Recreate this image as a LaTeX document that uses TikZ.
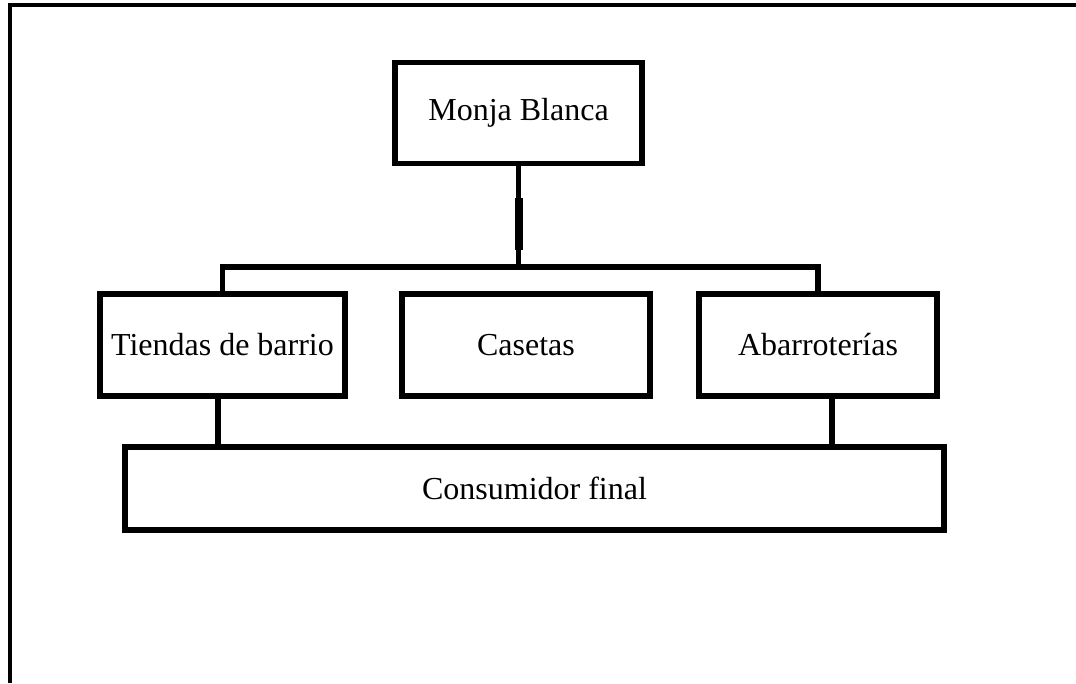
\documentclass[tikz,border=0pt]{standalone}
\usepackage{fontspec}
\setmainfont{Liberation Serif}
\usetikzlibrary{calc}

\tikzset{
  box/.style={draw,line width=4pt,inner sep=0pt,align=center,
    font=\fontsize{24}{29}\selectfont},
  link/.style={line width=4pt},
}

\begin{document}
\begin{tikzpicture}[x=0.75pt,y=-0.75pt]
  \useasboundingbox (0,0) rectangle (1076,683);
  % frame
  \draw[line width=3pt] (9.5,683) -- (9.5,5) -- (1076,5);

  \node[box,minimum width=247*0.75pt,minimum height=101*0.75pt] (monja) at (518.5,113) {Monja Blanca};
  \node[box,minimum width=245*0.75pt,minimum height=102*0.75pt] (tiendas) at (222.5,345) {Tiendas de barrio};
  \node[box,minimum width=248*0.75pt,minimum height=102*0.75pt] (casetas) at (526,345) {Casetas};
  \node[box,minimum width=238*0.75pt,minimum height=102*0.75pt] (abarr) at (818,345) {Abarroterías};
  \node[box,minimum width=819*0.75pt,minimum height=83*0.75pt] (consumidor) at (534.5,488.5) {Consumidor final};

  % connectors
  \coordinate (bar) at (518.5,267);
  \draw[link] (monja.south) -- (bar);
  \draw[line width=6pt] (518.5,198) -- (518.5,250);
  \draw[link] (tiendas.north) |- (bar) -| (abarr.north);
  \draw[link] ([xshift=-3.5pt]tiendas.south) -- ([xshift=-3.5pt]tiendas.south |- consumidor.north);
  \draw[link] ([xshift=10.5pt]abarr.south) -- ([xshift=10.5pt]abarr.south |- consumidor.north);
\end{tikzpicture}
\end{document}
